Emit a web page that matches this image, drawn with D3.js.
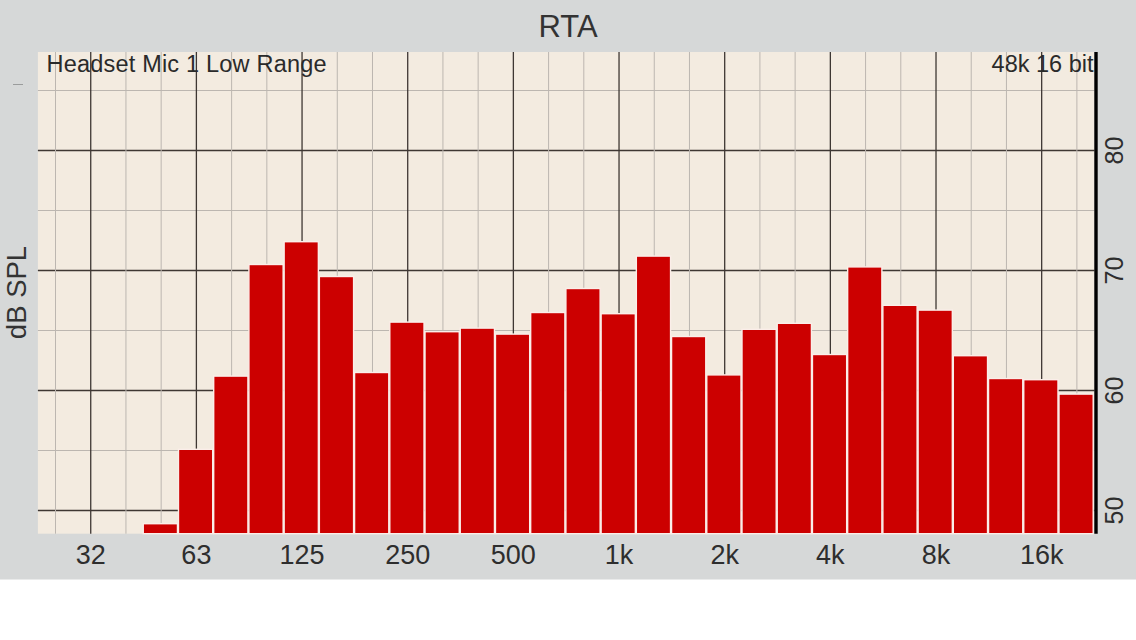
<!DOCTYPE html>
<html>
<head>
<meta charset="utf-8">
<script src="https://cdn.jsdelivr.net/npm/d3@7"></script>
<style>
  html, body { margin: 0; padding: 0; background: #ffffff; }
  svg { display: block; }
  text { font-family: "Liberation Sans", Arial, Helvetica, sans-serif; }
</style>
</head>
<body>
<svg id="chart" width="1136" height="640"></svg>
<script>
// ---- data ----
const bands = ["25","31.5","40","50","63","80","100","125","160","200","250","315","400","500","630","800","1k","1.25k","1.6k","2k","2.5k","3.15k","4k","5k","6.3k","8k","10k","12.5k","16k","20k"];
const octaveBands = ["31.5","63","125","250","500","1k","2k","4k","8k","16k"];
const octaveLabels = ["32","63","125","250","500","1k","2k","4k","8k","16k"];
const barBands = ["50","63","80","100","125","160","200","250","315","400","500","630","800","1k","1.25k","1.6k","2k","2.5k","3.15k","4k","5k","6.3k","8k","10k","12.5k","16k","20k"];
const barValues = [48.9,55.1,61.2,70.5,72.4,69.5,61.5,65.7,64.9,65.2,64.7,66.5,68.5,66.4,71.2,64.5,61.3,65.1,65.6,63.0,70.3,67.1,66.7,62.9,61.0,60.9,59.7];
const majorTicks = [50,60,70,80];
const minorTicks = [55,65,75,85];
const title = "RTA";
const leftNote = "Headset Mic 1 Low Range";
const rightNote = "48k 16 bit";
const yTitle = "dB SPL";

// ---- layout ----
const W = 1136, H = 640;
const plot = { left: 37.9, right: 1094.5, top: 52, bottom: 533.7 };
const svg = d3.select("#chart");

svg.append("rect").attr("x", 0).attr("y", 0).attr("width", W).attr("height", 579.5).attr("fill", "#d6d8d8");

const x = d3.scaleBand().domain(bands).range([plot.left, plot.right])
  .paddingInner(0.028).paddingOuter(0.014);
const y = d3.scaleLinear().domain([50, 80]).range([510.5, 150.5]);
const cx = b => x(b) + x.bandwidth() / 2;

svg.append("rect")
  .attr("x", plot.left).attr("y", plot.top)
  .attr("width", plot.right - plot.left).attr("height", plot.bottom - plot.top)
  .attr("fill", "#f3ebe0");

const g = svg.append("g");

// horizontal grid
g.selectAll("line.hmin").data(minorTicks).join("line")
  .attr("x1", plot.left).attr("x2", plot.right)
  .attr("y1", d => y(d)).attr("y2", d => y(d))
  .attr("stroke", "#bcb6b0").attr("stroke-width", 1);
g.selectAll("line.hmaj").data(majorTicks).join("line")
  .attr("x1", plot.left).attr("x2", plot.right)
  .attr("y1", d => y(d)).attr("y2", d => y(d))
  .attr("stroke", "#3e3733").attr("stroke-width", 1.3);

// vertical grid
g.selectAll("line.vmin").data(bands.filter(b => !octaveBands.includes(b))).join("line")
  .attr("x1", cx).attr("x2", cx)
  .attr("y1", plot.top).attr("y2", plot.bottom)
  .attr("stroke", "#bcb6b0").attr("stroke-width", 1);
g.selectAll("line.vmaj").data(octaveBands).join("line")
  .attr("x1", cx).attr("x2", cx)
  .attr("y1", plot.top).attr("y2", plot.bottom)
  .attr("stroke", "#3e3733").attr("stroke-width", 1.3);

// bars
g.selectAll("rect.bar").data(barBands.map((b, i) => ({ b, v: barValues[i] }))).join("rect")
  .attr("x", d => x(d.b) - 0.8)
  .attr("width", x.bandwidth())
  .attr("y", d => y(d.v))
  .attr("height", d => plot.bottom - y(d.v))
  .attr("fill", "#cc0000")
  .attr("stroke", "#fbeee9")
  .attr("stroke-width", 1.4);

// right axis line
svg.append("line")
  .attr("x1", 1096).attr("x2", 1096)
  .attr("y1", plot.top).attr("y2", plot.bottom)
  .attr("stroke", "#000").attr("stroke-width", 3.4);

// notes
svg.append("text").attr("x", 46.5).attr("y", 71.7)
  .attr("font-size", 23.5).attr("letter-spacing", 0.2).attr("fill", "#2a2a2a").text(leftNote);
svg.append("text").attr("x", 1093.5).attr("y", 71.7).attr("text-anchor", "end")
  .attr("font-size", 23.5).attr("fill", "#2a2a2a").text(rightNote);

// title
svg.append("text").attr("x", 568).attr("y", 36.7).attr("text-anchor", "middle")
  .attr("font-size", 31).attr("fill", "#333").text(title);

// x tick labels
svg.selectAll("text.xt").data(octaveBands).join("text")
  .attr("x", cx).attr("y", 564)
  .attr("text-anchor", "middle").attr("font-size", 27).attr("fill", "#2e2e2e")
  .text((d, i) => octaveLabels[i]);

// y tick labels (right, rotated)
svg.selectAll("text.yt").data(majorTicks).join("text")
  .attr("transform", d => `translate(1122.5,${y(d)}) rotate(-90)`)
  .attr("text-anchor", "middle").attr("font-size", 25).attr("fill", "#2e2e2e")
  .text(d => d);

// y title
svg.append("text")
  .attr("transform", "translate(26,292.5) rotate(-90)")
  .attr("text-anchor", "middle").attr("font-size", 27.5).attr("fill", "#333")
  .text(yTitle);

// small stray dash at left
svg.append("line").attr("x1", 13).attr("x2", 23).attr("y1", 84.5).attr("y2", 84.5)
  .attr("stroke", "#9a9c9c").attr("stroke-width", 1);
</script>
</body>
</html>
